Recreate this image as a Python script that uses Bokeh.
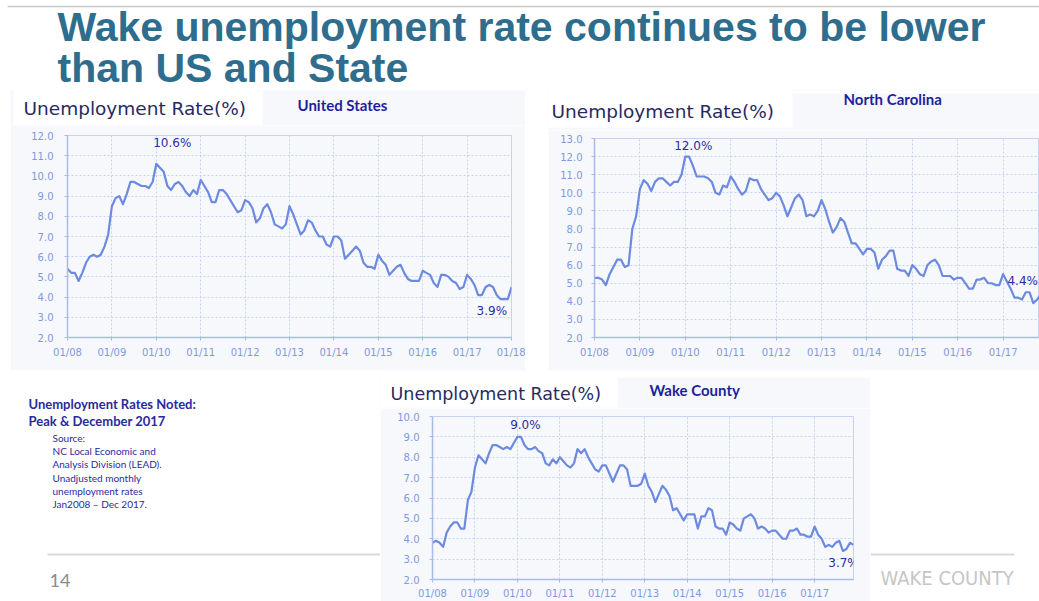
from bokeh.plotting import figure
from bokeh.layouts import row, column, Spacer
from bokeh.models import Range1d, FixedTicker, PrintfTickFormatter
from bokeh.core.properties import value
from bokeh.embed import file_html
from bokeh.resources import INLINE

# ---------------- data (monthly, Jan 2008 onward) ----------------
us_rate = [
    5.4, 5.2, 5.2, 4.8, 5.2, 5.7, 6.0, 6.1, 6.0, 6.1, 6.5, 7.1,
    8.5, 8.9, 9.0, 8.6, 9.1, 9.7, 9.7, 9.6, 9.5, 9.5, 9.4, 9.7,
    10.6, 10.4, 10.2, 9.5, 9.3, 9.6, 9.7, 9.5, 9.2, 9.0, 9.3, 9.1,
    9.8, 9.5, 9.2, 8.7, 8.7, 9.3, 9.3, 9.1, 8.8, 8.5, 8.2, 8.3,
    8.8, 8.7, 8.4, 7.7, 7.9, 8.4, 8.6, 8.2, 7.6, 7.5, 7.4, 7.6,
    8.5, 8.1, 7.6, 7.1, 7.3, 7.8, 7.7, 7.3, 7.0, 7.0, 6.6, 6.5,
    7.0, 7.0, 6.8, 5.9, 6.1, 6.3, 6.5, 6.3, 5.7, 5.5, 5.5, 5.4,
    6.1, 5.8, 5.6, 5.1, 5.3, 5.5, 5.6, 5.2, 4.9, 4.8, 4.8, 4.8,
    5.3, 5.2, 5.1, 4.7, 4.5, 5.1, 5.1, 5.0, 4.8, 4.7, 4.4, 4.5,
    5.1, 4.9, 4.6, 4.1, 4.1, 4.5, 4.6, 4.5, 4.1, 3.9, 3.9, 3.9,
    4.5,
]
nc_rate = [
    5.3, 5.3, 5.2, 4.9, 5.5, 5.9, 6.3, 6.3, 5.9, 6.0, 8.0, 8.7,
    10.2, 10.7, 10.5, 10.1, 10.6, 10.8, 10.8, 10.6, 10.4, 10.6, 10.6, 11.0,
    12.0, 12.0, 11.5, 10.9, 10.9, 10.9, 10.8, 10.6, 10.0, 9.9, 10.4, 10.3,
    10.9, 10.6, 10.2, 9.9, 10.1, 10.8, 10.7, 10.7, 10.2, 9.9, 9.6, 9.7,
    10.0, 9.8, 9.3, 8.7, 9.2, 9.7, 9.9, 9.6, 8.7, 8.8, 8.7, 9.0,
    9.6, 9.1, 8.4, 7.8, 8.1, 8.6, 8.4, 7.8, 7.2, 7.2, 6.9, 6.6,
    6.9, 6.9, 6.7, 5.8, 6.3, 6.5, 6.8, 6.8, 5.8, 5.7, 5.7, 5.4,
    6.0, 5.8, 5.5, 5.4, 6.0, 6.2, 6.3, 6.0, 5.4, 5.4, 5.4, 5.2,
    5.3, 5.3, 5.0, 4.7, 4.7, 5.2, 5.2, 5.3, 5.0, 5.0, 4.9, 4.9,
    5.5, 5.1, 4.7, 4.2, 4.2, 4.1, 4.5, 4.5, 3.9, 4.1, 4.4, 4.4,
]
wake_rate = [
    3.8, 3.9, 3.8, 3.6, 4.3, 4.6, 4.8, 4.8, 4.5, 4.5, 5.9, 6.3,
    7.5, 8.1, 7.9, 7.7, 8.2, 8.6, 8.6, 8.5, 8.4, 8.5, 8.4, 8.7,
    9.0, 9.0, 8.6, 8.4, 8.4, 8.5, 8.3, 8.2, 7.7, 7.6, 7.9, 7.7,
    8.0, 7.8, 7.6, 7.5, 7.7, 8.4, 8.2, 8.4, 8.0, 7.7, 7.4, 7.3,
    7.6, 7.6, 7.2, 6.8, 7.2, 7.6, 7.6, 7.4, 6.6, 6.6, 6.6, 6.7,
    7.2, 6.6, 6.3, 5.8, 6.2, 6.6, 6.4, 6.1, 5.4, 5.5, 5.2, 4.9,
    5.2, 5.2, 5.2, 4.5, 5.1, 5.1, 5.5, 5.4, 4.6, 4.5, 4.5, 4.2,
    4.8, 4.7, 4.5, 4.4, 5.0, 5.1, 5.2, 5.0, 4.5, 4.6, 4.5, 4.3,
    4.4, 4.4, 4.2, 4.0, 4.0, 4.4, 4.4, 4.5, 4.2, 4.2, 4.1, 4.1,
    4.6, 4.2, 4.0, 3.6, 3.7, 3.6, 3.8, 3.9, 3.4, 3.5, 3.8, 3.7,
]
year_ticks = [2008, 2009, 2010, 2011, 2012, 2013, 2014, 2015, 2016, 2017, 2018]
year_labels = ["01/08", "01/09", "01/10", "01/11", "01/12", "01/13",
               "01/14", "01/15", "01/16", "01/17", "01/18"]
us_yticks = [2, 3, 4, 5, 6, 7, 8, 9, 10, 11, 12]
nc_yticks = [2, 3, 4, 5, 6, 7, 8, 9, 10, 11, 12, 13]
wake_yticks = [2, 3, 4, 5, 6, 7, 8, 9, 10]
DEC_2017 = 119  # index of December 2017

title_lines = ["Wake unemployment rate continues to be lower", "than US and State"]
note_lines = ["Unemployment Rates Noted:", "Peak & December 2017"]
source_lines = ["Source:", "NC Local Economic and", "Analysis Division (LEAD).",
                "Unadjusted monthly", "unemployment  rates", "Jan2008 \u2013 Dec 2017."]

# ---------------- styles ----------------
PANEL = "#f6f8fb"
GRID = "#c6d2f0"
AXIS = "#a9bbeb"
TICK = "#7f99e0"
LINE = "#6b8ae0"
NOTE = "#2c2ca8"
HEAD = "#272a62"
REGION = "#1f1f9e"
TITLE = "#2e6d8d"
SRC = "#2a2aa0"


def blank(width, height, x0, x1, y0, y1, fill="white"):
    p = figure(width=width, height=height, x_range=Range1d(x0, x1), y_range=Range1d(y0, y1),
               output_backend="svg", toolbar_location=None, x_axis_type=None, y_axis_type=None,
               min_border=0)
    p.background_fill_color = fill
    p.border_fill_color = fill
    p.outline_line_color = None
    return p


def make_header(width, height, strip, box, tx, ty, tsize, region, rx, ry):
    h = blank(width, height, 0, width, height, 0, fill=PANEL)
    if strip:
        h.quad(left=[0], right=[width], top=[0], bottom=[strip], fill_color="white", line_color=None)
    h.quad(left=[box[0]], right=[box[1]], top=[box[2]], bottom=[box[3]],
           fill_color="white", line_color=None)
    h.text(x=[tx], y=[ty], text=["Unemployment Rate(%)"], text_font=value("DejaVu Sans"),
           text_font_size=value(tsize), text_color=HEAD, text_baseline="middle", text_align="left")
    h.text(x=[rx], y=[ry], text=[region], text_font=value("Lato"), text_font_style="bold",
           text_font_size=value("15px"), text_color=REGION, text_baseline="middle", text_align="left")
    return h


def make_chart(rates, yticks, x_hi, width, height, bl, br, bt, bb, xs, ys, notes):
    x = [2008 + i / 12 for i in range(len(rates))]
    p = figure(width=width, height=height, x_range=Range1d(2008, x_hi),
               y_range=Range1d(yticks[0], yticks[-1]), output_backend="svg", toolbar_location=None,
               min_border_left=bl, min_border_right=br, min_border_top=bt, min_border_bottom=bb)
    p.background_fill_color = PANEL
    p.border_fill_color = PANEL
    p.outline_line_color = GRID
    p.outline_line_width = 1
    p.xaxis.ticker = FixedTicker(ticks=year_ticks)
    p.xaxis.major_label_overrides = dict(zip(year_ticks, year_labels))
    p.yaxis.ticker = FixedTicker(ticks=yticks)
    p.yaxis.formatter = PrintfTickFormatter(format="%.1f")
    p.grid.grid_line_color = GRID
    p.grid.grid_line_dash = "2 2"
    p.grid.grid_line_width = 1
    p.axis.axis_line_color = AXIS
    p.axis.axis_line_width = 1.5
    p.axis.major_tick_line_color = AXIS
    p.axis.major_tick_out = 3
    p.axis.major_tick_in = 0
    p.axis.minor_tick_line_color = None
    p.axis.major_label_text_font = "DejaVu Sans"
    p.axis.major_label_text_font_size = "10px"
    p.axis.major_label_text_color = TICK
    p.xaxis.major_label_standoff = xs
    p.yaxis.major_label_standoff = ys
    p.line(x, rates, line_width=2.2, line_color=LINE, line_join="round")
    idx = [rates.index(max(rates)), DEC_2017]
    p.text(x=[x[i] for i in idx], y=[rates[i] for i in idx],
           text=["%.1f%%" % rates[i] for i in idx],
           x_offset=[n[0] for n in notes], y_offset=[n[1] for n in notes],
           text_font=value("DejaVu Sans"), text_font_size=value("12px"), text_color=NOTE,
           text_align="center", text_baseline="middle")
    return p


# ---------------- title band ----------------
title = blank(1039, 90, 0, 1039, 90, 0)
title.segment(x0=[7], y0=[6], x1=[1039], y1=[6], line_color="#c8c8c8", line_width=1.5)
title.text(x=[57, 57], y=[26, 67], text=title_lines, text_font=value("Liberation Sans"),
           text_font_style="bold", text_font_size=value("41px"), text_color=TITLE,
           text_baseline="middle", text_align="left", text_line_height=1.0)

# ---------------- US ----------------
us_head = make_header(515, 35, 0, (3, 252, 0, 34), 13, 18, "18.5px", "United States", 287, 14)
us_chart = make_chart(us_rate, us_yticks, 2018, 515, 245, 57, 14, 10, 33, 6, 11,
                      [(16, -21), (-16, 12)])

# ---------------- NC ----------------
nc_head = make_header(491, 40, 3, (0, 244, 3, 37), 3, 21, "18.5px", "North Carolina", 295, 8)
nc_chart = make_chart(nc_rate, nc_yticks, 2008 + 445 / 45.4, 491, 240, 46, 0, 8, 33, 6, 9,
                      [(8, -11), (-22, -13)])

# ---------------- Wake ----------------
wake_head = make_header(490, 38, 7, (0, 237, 7, 37), 10, 23, "17.5px", "Wake County", 269, 19)
wake_chart = make_chart(wake_rate, wake_yticks, 2017 + 11 / 12, 490, 193, 52, 17, 8, 21, 5, 10,
                        [(8, -12), (-10, 18)])

# ---------------- lower left notes ----------------
left = blank(380, 231, 0, 380, 601, 370)
left.text(x=[28, 28], y=[403, 420], text=note_lines, text_font=value("Lato"),
          text_font_style="bold", text_font_size=value("13px"), text_color=SRC,
          text_baseline="middle", text_align="left")
left.text(x=[52] * len(source_lines), y=[437, 450, 463, 477, 490, 503], text=source_lines,
          text_font=value("Lato"), text_font_size=value("10px"), text_color=SRC,
          text_baseline="middle", text_align="left")
left.segment(x0=[47], y0=[554], x1=[380], y1=[554], line_color="#d9d9d9", line_width=2)
left.text(x=[49], y=[580], text=["14"], text_font=value("Lato"), text_font_size=value("18px"),
          text_color="#8c8c8c", text_baseline="middle", text_align="left")

# ---------------- lower right brand ----------------
right = blank(169, 231, 870, 1039, 601, 370)
right.segment(x0=[870], y0=[554], x1=[1014], y1=[554], line_color="#d9d9d9", line_width=2)
right.text(x=[880], y=[577], text=["WAKE COUNTY"],
           text_font=value("'Liberation Sans Narrow', 'DejaVu Sans Condensed'"),
           text_font_size=value("20px"), text_color="#c6c6c6",
           text_baseline="middle", text_align="left")

layout = column(
    title,
    row(Spacer(width=10, height=280), column(row(us_head), row(us_chart)),
        Spacer(width=23, height=280), column(row(nc_head), row(nc_chart))),
    row(left, column(row(wake_head), row(wake_chart)), right),
)

open("out.html", "w").write(file_html(layout, INLINE))
